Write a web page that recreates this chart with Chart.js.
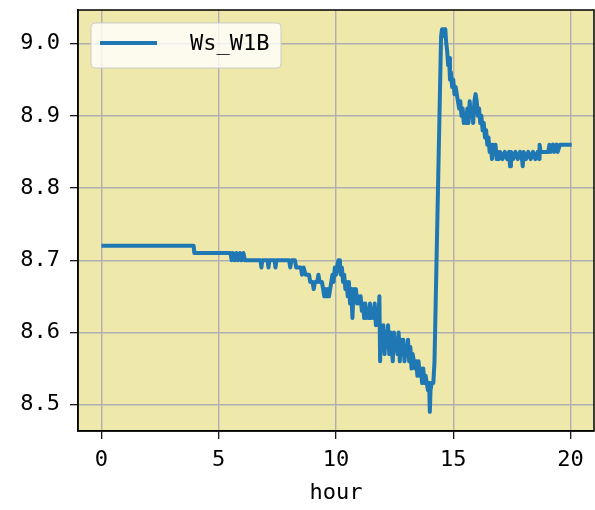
<!DOCTYPE html>
<html>
<head>
<meta charset="utf-8">
<script src="https://cdn.jsdelivr.net/npm/chart.js@4/dist/chart.umd.min.js"></script>
<style>
  html, body { margin: 0; padding: 0; background: #ffffff; }
  #chart { display: block; }
</style>
</head>
<body>
<canvas id="chart" width="595" height="510"></canvas>
<script>
// series (hour, value)
const seriesLabel = "Ws_W1B";

const hours = [
  0.00, 3.93, 3.96, 5.50, 5.55, 5.60, 5.68, 5.75, 5.82, 5.90, 5.97, 6.05, 6.12,
  6.78, 6.82, 6.86, 7.08, 7.12, 7.16, 7.38, 7.42, 7.46, 8.00, 8.05, 8.10, 8.25,
  8.30, 8.50, 8.55, 8.62, 8.70, 8.85, 8.90, 9.00, 9.05, 9.10, 9.20, 9.25, 9.30,
  9.40, 9.45, 9.50, 9.55, 9.60, 9.65, 9.70, 9.75, 9.80, 9.85, 9.90, 9.95, 10.00,
  10.05, 10.10, 10.13, 10.17, 10.20, 10.25, 10.30, 10.35, 10.40, 10.45, 10.50,
  10.55, 10.60, 10.65, 10.70, 10.75, 10.80, 10.85, 10.90, 10.95, 11.00, 11.05,
  11.10, 11.15, 11.20, 11.25, 11.30, 11.35, 11.40, 11.45, 11.50, 11.55, 11.60,
  11.65, 11.70, 11.75, 11.80, 11.85, 11.88, 11.92, 11.97, 12.02, 12.07, 12.12,
  12.17, 12.22, 12.27, 12.32, 12.37, 12.42, 12.47, 12.52, 12.57, 12.62, 12.67,
  12.72, 12.77, 12.82, 12.87, 12.92, 12.97, 13.02, 13.07, 13.12, 13.17, 13.22,
  13.27, 13.32, 13.37, 13.42, 13.47, 13.52, 13.57, 13.62, 13.67, 13.72, 13.77,
  13.82, 13.87, 13.92, 13.97, 14.00, 14.03, 14.08, 14.15, 14.20, 14.48, 14.52,
  14.58, 14.62, 14.66, 14.70, 14.74, 14.78, 14.82, 14.86, 14.90, 14.95, 15.00,
  15.05, 15.10, 15.15, 15.20, 15.25, 15.30, 15.35, 15.40, 15.45, 15.50, 15.55,
  15.60, 15.65, 15.70, 15.75, 15.80, 15.85, 15.90, 15.95, 16.00, 16.05, 16.10,
  16.15, 16.20, 16.25, 16.30, 16.35, 16.40, 16.45, 16.50, 16.55, 16.60, 16.65,
  16.70, 16.75, 16.80, 16.85, 16.90, 16.95, 17.00, 17.10, 17.20, 17.30, 17.38,
  17.42, 17.46, 17.55, 17.65, 17.75, 17.85, 17.93, 17.96, 18.00, 18.10, 18.20,
  18.30, 18.40, 18.50, 18.60, 18.66, 18.68, 18.72, 19.05, 19.10, 19.15, 19.25,
  19.30, 19.40, 19.45, 19.55, 20.05
];

const ws = [
  8.72, 8.72, 8.71, 8.71, 8.70, 8.71, 8.70, 8.71, 8.70, 8.71, 8.70, 8.71, 8.70,
  8.70, 8.69, 8.70, 8.70, 8.69, 8.70, 8.70, 8.69, 8.70, 8.70, 8.69, 8.70, 8.70,
  8.69, 8.69, 8.68, 8.69, 8.68, 8.68, 8.67, 8.67, 8.66, 8.67, 8.67, 8.68, 8.67,
  8.67, 8.66, 8.65, 8.66, 8.65, 8.66, 8.65, 8.66, 8.67, 8.68, 8.67, 8.69, 8.68,
  8.69, 8.70, 8.70, 8.69, 8.68, 8.69, 8.67, 8.68, 8.66, 8.67, 8.65,
  8.67, 8.64, 8.66, 8.62, 8.66, 8.65, 8.66, 8.64, 8.65, 8.64, 8.65,
  8.63, 8.64, 8.62, 8.64, 8.62, 8.63, 8.62, 8.64, 8.62, 8.63, 8.62,
  8.64, 8.61, 8.63, 8.61, 8.65, 8.56, 8.61, 8.58, 8.61, 8.57, 8.60,
  8.58, 8.61, 8.57, 8.60, 8.58, 8.56, 8.60, 8.58, 8.59, 8.57, 8.60,
  8.56, 8.59, 8.57, 8.59, 8.56, 8.58, 8.57, 8.59, 8.56, 8.58, 8.55,
  8.57, 8.56, 8.55, 8.56, 8.54, 8.56, 8.54, 8.55, 8.53, 8.55, 8.53,
  8.54, 8.53, 8.52, 8.53, 8.49, 8.52, 8.53, 8.53, 8.56, 9.01, 9.02,
  9.02, 9.01, 9.02, 9.00, 8.99, 8.97, 8.98, 8.95, 8.96, 8.94, 8.95,
  8.93, 8.94, 8.93, 8.92, 8.91, 8.92, 8.90, 8.91, 8.89, 8.90, 8.89,
  8.91, 8.89, 8.92, 8.90, 8.91, 8.89, 8.92, 8.93, 8.92, 8.90, 8.91,
  8.89, 8.90, 8.88, 8.89, 8.87, 8.88, 8.86, 8.87, 8.85, 8.86, 8.84,
  8.86, 8.85, 8.86, 8.84, 8.85, 8.84, 8.85, 8.84, 8.85, 8.84, 8.85,
  8.83, 8.85, 8.84, 8.85, 8.84, 8.85, 8.84, 8.83, 8.85, 8.84, 8.85,
  8.84, 8.85, 8.84, 8.85, 8.84, 8.86, 8.85, 8.85, 8.86, 8.85, 8.86,
  8.85, 8.86, 8.85, 8.86, 8.86
];

const xTicks = [0, 5, 10, 15, 20];
const yTicks = [8.5, 8.6, 8.7, 8.8, 8.9, 9.0];

const lineColor = "#1f77b4";
const tickFont = { family: "'DejaVu Sans Mono', monospace", size: 22 };

const frame = {
  id: "frame",
  beforeDraw(chart) {
    const a = chart.chartArea;
    const ctx = chart.ctx;
    ctx.save();
    ctx.fillStyle = "#eee8aa";
    ctx.fillRect(a.left, a.top, a.right - a.left, a.bottom - a.top);
    ctx.restore();
  },
  afterDraw(chart) {
    const a = chart.chartArea;
    const ctx = chart.ctx;
    ctx.save();

    // legend box, upper left
    const lx = a.left + 13, ly = a.top + 13, lw = 190, lh = 45;
    ctx.beginPath();
    ctx.roundRect(lx, ly, lw, lh, 4);
    ctx.fillStyle = "rgba(255,255,255,0.8)";
    ctx.fill();
    ctx.strokeStyle = "#cccccc";
    ctx.lineWidth = 1;
    ctx.stroke();

    ctx.beginPath();
    ctx.moveTo(lx + 9, ly + 20);
    ctx.lineTo(lx + 66, ly + 20);
    ctx.strokeStyle = lineColor;
    ctx.lineWidth = 4;
    ctx.stroke();

    ctx.fillStyle = "#000";
    ctx.font = "22px 'DejaVu Sans Mono', monospace";
    ctx.textBaseline = "middle";
    ctx.fillText(chart.data.datasets[0].label, lx + 99, ly + 21);

    // spines
    ctx.strokeStyle = "#000";
    ctx.lineWidth = 1.5;
    ctx.strokeRect(a.left, a.top, a.right - a.left, a.bottom - a.top);
    ctx.restore();
  }
};

const ctx = document.getElementById("chart").getContext("2d");

new Chart(ctx, {
  type: "line",
  data: {
    datasets: [{
      label: seriesLabel,
      data: hours.map((h, i) => ({ x: h, y: ws[i] })),
      borderColor: lineColor,
      borderWidth: 4,
      pointRadius: 0,
      tension: 0,
      borderJoinStyle: "round",
      fill: false
    }]
  },
  options: {
    responsive: false,
    animation: false,
    layout: { padding: { top: 10, right: 1, left: 0, bottom: 0 } },
    plugins: {
      legend: { display: false },
      tooltip: { enabled: false }
    },
    scales: {
      x: {
        type: "linear",
        min: -1,
        max: 21,
        afterBuildTicks: s => { s.ticks = xTicks.map(v => ({ value: v })); },
        afterFit: s => { s.height = 79; s.paddingLeft = 0; s.paddingRight = 0; },
        ticks: { font: tickFont, color: "#000", padding: 8, maxRotation: 0, callback: v => String(v) },
        grid: { color: "#b0b0b0", lineWidth: 1.4, tickColor: "#000", tickLength: 8, tickWidth: 1.2 },
        border: { color: "#000", width: 1.5 },
        title: { display: true, text: "hour", font: tickFont, color: "#000", padding: { top: 0, bottom: 4 } }
      },
      y: {
        type: "linear",
        min: 8.4635,
        max: 9.0465,
        afterBuildTicks: s => { s.ticks = yTicks.map(v => ({ value: v })); },
        afterFit: s => { s.width = 78; s.paddingTop = 0; s.paddingBottom = 0; },
        ticks: { font: tickFont, color: "#000", padding: 10, callback: v => Number(v).toFixed(1) },
        grid: { color: "#b0b0b0", lineWidth: 1.4, tickColor: "#000", tickLength: 8, tickWidth: 1.2 },
        border: { color: "#000", width: 1.5 }
      }
    }
  },
  plugins: [frame]
});
</script>
</body>
</html>
